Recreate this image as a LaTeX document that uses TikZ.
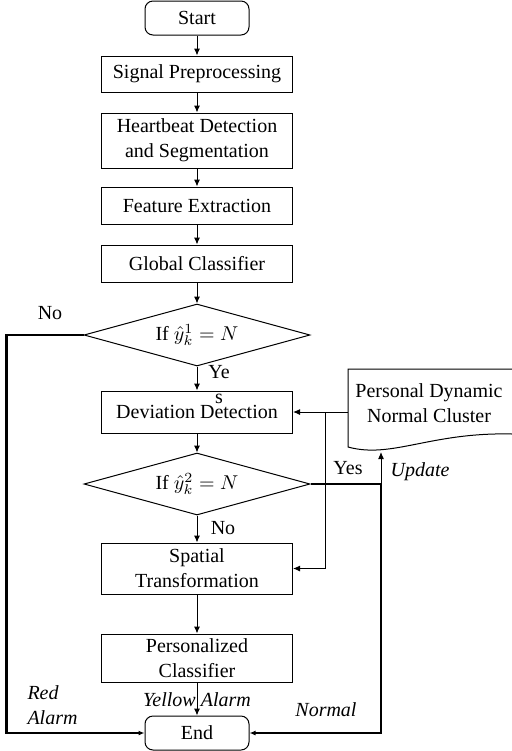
\documentclass[tikz,border=0pt]{standalone}
\usepackage{fontspec}
\setmainfont{Liberation Serif}
\usetikzlibrary{arrows.meta,shapes.geometric}
\tikzset{
  box/.style={draw, minimum width=95.5pt, inner sep=1pt, align=center},
  term/.style={draw, rounded corners=4pt, minimum width=52pt, minimum height=17pt},
  decision/.style={draw, diamond, aspect=3.6, inner sep=0pt, minimum width=113pt, minimum height=31pt},
  lbl/.style={inner sep=0pt},
  flow/.style={-{Latex[length=3.5pt,width=3pt]}},
  boldflow/.style={line width=1.2pt, -{Latex[length=3pt,width=2.5pt]}},
}
\begin{document}
\begin{tikzpicture}[x=0.5pt, y=-0.5pt, line width=0.5pt,
    every node/.append style={font=\fontsize{10}{12.5}\selectfont}]
  \useasboundingbox (0,0) rectangle (512,751);
  % main column
  \node[term] (start) at (197,18) {Start};
  \node[box, minimum height=18pt] (pre) at (197,74) {Signal Preprocessing};
  \node[box, minimum height=27.5pt] (seg) at (197,140.5) {Heartbeat Detection\\and Segmentation};
  \node[box, minimum height=18.5pt] (feat) at (197,205.5) {Feature Extraction};
  \node[box, minimum height=18.5pt] (glob) at (197,263.5) {Global Classifier};
  \node[decision] (d1) at (197,335) {If $\hat{y}_k^1 = N$};
  \node[box, minimum height=21pt] (dev) at (197,412) {Deviation Detection};
  \node[decision] (d2) at (197,484) {If $\hat{y}_k^2 = N$};
  \node[box, minimum height=25.5pt] (spat) at (197,568.5) {Spatial\\Transformation};
  \node[box, minimum height=24pt] (pers) at (197,658) {Personalized\\Classifier};
  \node[term] (end) at (197,733) {End};
  % normal cluster document
  \draw (512,369) -- (348,369) -- (348,447)
    .. controls (392,459) and (430,432) .. (512,434);
  \node[lbl, align=center] (clus) at (429,403) {Personal Dynamic\\Normal Cluster};
  \coordinate (docL) at (348,412);
  \coordinate (docB) at (381,452);
  \coordinate (split) at (325,412);
  \coordinate (upd) at (381,484);

  \draw[flow] (start) -- (pre);
  \draw[flow] (pre) -- (seg);
  \draw[flow] (seg) -- (feat);
  \draw[flow] (feat) -- (glob);
  \draw[flow] (glob) -- (d1);
  \draw[flow] (d1) -- (dev);
  \draw[flow] (dev) -- (d2);
  \draw[flow] (d2) -- (spat);
  \draw[flow] (spat) -- (pers);
  \draw[flow] (pers) -- (end);
  \draw[flow] (docL) -- (dev.east);
  \draw[flow] (split) |- (spat.east);
  \draw[boldflow] (d1.west) -- ++(-77,0) |- (end.west);
  \draw[boldflow] (d2.east) -- (upd) |- (end.east);
  \draw[flow] (upd) -- (docB);

  % labels
  \node[lbl] (no1) at (50,313) {No};
  \node[lbl, align=center] (yes1) at (219,385) {Ye\\s};
  \node[lbl] (no2) at (223,528) {No};
  \node[lbl] (yes2) at (348,468) {Yes};
  \node[lbl] (upl) at (420,472) {\itshape Update};
  \node[lbl] (norm) at (326,710) {\itshape Normal};
  \node[lbl, anchor=west, align=left] (red) at (27,705) {\itshape Red\\\itshape Alarm};
  \node[lbl] (yel) at (197,700) {\itshape Yellow Alarm};
\end{tikzpicture}
\end{document}
